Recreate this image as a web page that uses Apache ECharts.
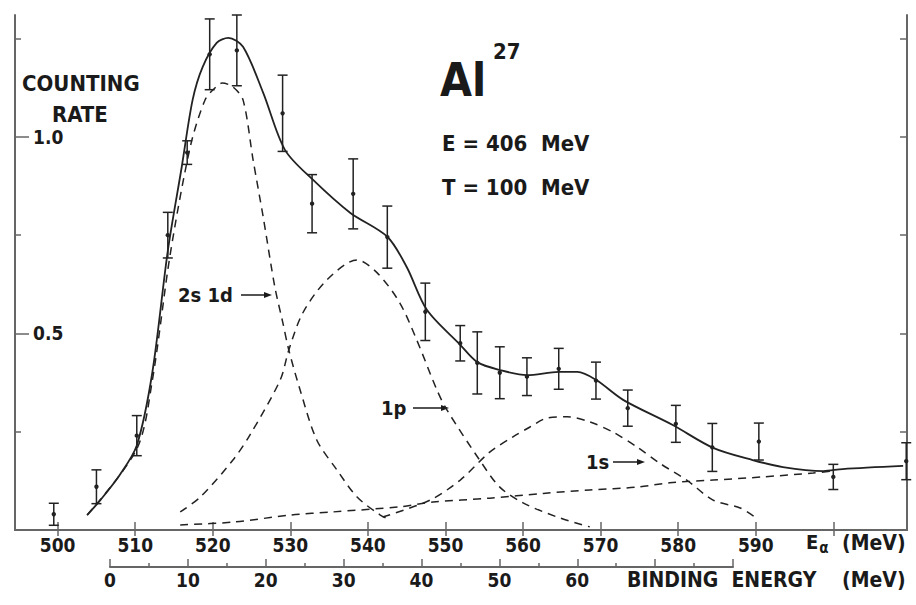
<!DOCTYPE html>
<html>
<head>
<meta charset="UTF-8">
<title>Al27 counting rate</title>
<script src="https://cdn.jsdelivr.net/npm/echarts@6/dist/echarts.min.js"></script>
<style>
  html, body { margin: 0; padding: 0; background: #fff; }
  #chart { width: 916px; height: 605px; }
</style>
</head>
<body>
<div id="chart"></div>
<script>
// measured points: E_alpha (MeV), counting rate, error
var pointE    = [499.5, 505.0, 510.2, 514.2, 516.7, 519.6, 523.1, 529.0, 532.8, 538.1, 542.5, 547.4, 551.9, 554.1, 557.0, 560.5, 564.6, 569.4, 573.5, 579.7, 584.4, 590.4, 600.0, 609.4];
var pointRate = [0.04, 0.11, 0.24, 0.75, 0.96, 1.21, 1.22, 1.06, 0.83, 0.855, 0.745, 0.555, 0.475, 0.425, 0.40, 0.39, 0.41, 0.38, 0.31, 0.27, 0.21, 0.225, 0.135, 0.175];
var pointErr  = [0.028, 0.043, 0.051, 0.058, 0.03, 0.09, 0.09, 0.097, 0.074, 0.089, 0.079, 0.073, 0.045, 0.079, 0.066, 0.048, 0.052, 0.047, 0.046, 0.047, 0.061, 0.047, 0.032, 0.047];

// total fit (solid)
var totalE    = [503.8, 505.5, 508.0, 510.2, 512.2, 514.2, 516.0, 517.4, 518.7, 520.5, 522.0, 523.9, 526.5, 529.3, 532.9, 537.7, 542.5, 545.0, 547.6, 551.9, 554.1, 557.0, 560.5, 564.6, 567.0, 569.4, 572.9, 579.3, 584.5, 589.6, 593.5, 598.7, 601.2, 609.0];
var totalRate = [0.038, 0.076, 0.14, 0.215, 0.40, 0.71, 0.924, 1.094, 1.178, 1.239, 1.252, 1.229, 1.112, 0.967, 0.891, 0.807, 0.746, 0.669, 0.560, 0.471, 0.427, 0.407, 0.394, 0.402, 0.402, 0.382, 0.331, 0.267, 0.209, 0.178, 0.160, 0.150, 0.155, 0.163];

// 2s 1d shell (dashed)
var sdE    = [503.8, 510.2, 512.2, 514.5, 517.1, 519.0, 520.3, 521.2, 522.6, 523.9, 525.2, 526.5, 528.0, 529.0, 529.8, 531.2, 533.4, 536.0, 538.6, 541.6, 543.0];
var sdRate = [0.038, 0.206, 0.38, 0.70, 0.975, 1.094, 1.125, 1.137, 1.127, 1.094, 0.941, 0.796, 0.618, 0.53, 0.458, 0.36, 0.229, 0.153, 0.084, 0.038, 0.025];

// 1p shell (dashed)
var pE    = [515.8, 518.4, 522.6, 524.8, 528.7, 529.8, 531.6, 534.7, 538.6, 541.2, 544.1, 546.3, 548.9, 550.2, 554.4, 557.0, 560.0, 564.4, 568.6];
var pRate = [0.046, 0.084, 0.178, 0.242, 0.382, 0.458, 0.552, 0.636, 0.687, 0.654, 0.578, 0.483, 0.356, 0.305, 0.178, 0.109, 0.069, 0.033, 0.008];

// 1s shell (dashed)
var sE    = [541.9, 548.0, 551.9, 555.7, 558.7, 560.9, 563.1, 565.7, 568.6, 571.6, 574.7, 577.6, 581.1, 584.5, 588.0, 589.9];
var sRate = [0.033, 0.076, 0.127, 0.198, 0.237, 0.262, 0.285, 0.288, 0.275, 0.249, 0.211, 0.170, 0.127, 0.076, 0.056, 0.033];

// background (dashed)
var bgE    = [515.8, 522.6, 530.0, 535.5, 544.1, 548.4, 555.7, 562.6, 568.6, 574.7, 578.9, 584.5, 590.9, 597.4, 599.9];
var bgRate = [0.013, 0.020, 0.038, 0.046, 0.059, 0.071, 0.081, 0.093, 0.102, 0.109, 0.120, 0.127, 0.135, 0.145, 0.150];

var eTicks = [500, 510, 520, 530, 540, 550, 560, 570, 580, 590, 600];
var eLabels = [500, 510, 520, 530, 540, 550, 560, 570, 580, 590];
var rateLabels = [0.5, 1.0];
var rateMinor = [0.25, 0.75, 1.25];
var rateAll = [0.25, 0.5, 0.75, 1.0, 1.25];

function pairs(xs, ys) {
    var out = [];
    for (var i = 0; i < xs.length; i++) out.push([xs[i], ys[i]]);
    return out;
}

var errData = [];
for (var i = 0; i < pointE.length; i++) errData.push([pointE[i], pointRate[i], pointErr[i]]);

var INK = '#1a1a1a';
var FRAME = '#666';
var FONT = "'DejaVu Sans Condensed', 'DejaVu Sans', sans-serif";

var chart = echarts.init(document.getElementById('chart'), null, {renderer: 'svg'});

function txt(x, y, s, size, extra) {
    var st = {text: s, fill: INK, fontSize: size, fontWeight: 'bold', fontFamily: FONT};
    if (extra) for (var k in extra) st[k] = extra[k];
    return {type: 'text', left: x, top: y, style: st, z: 10};
}
function arrow(x1, x2, y) {
    return {type: 'group', z: 10, children: [
        {type: 'line', shape: {x1: x1, y1: y, x2: x2 - 6, y2: y}, style: {stroke: INK, lineWidth: 1.5}},
        {type: 'polygon', shape: {points: [[x2, y], [x2 - 8, y - 3], [x2 - 8, y + 3]]}, style: {fill: INK}}
    ]};
}

var dashed = {color: '#222', width: 1.5, type: [8, 6]};

var option = {
    backgroundColor: '#fff',
    animation: false,
    grid: [
        {left: 15, top: 15, width: 892, height: 515},
        {left: 110, top: 566, width: 623, height: 1}
    ],
    xAxis: [
        {
            type: 'value', gridIndex: 0, position: 'bottom', min: 494.5, max: 609.5,
            axisLine: {lineStyle: {color: FRAME, width: 2}},
            axisTick: {inside: true, length: 8, customValues: eTicks, lineStyle: {color: FRAME, width: 1.5}},
            axisLabel: {customValues: eLabels, margin: 5, color: INK, fontSize: 19, fontWeight: 'bold', fontFamily: FONT},
            splitLine: {show: false}
        },
        {
            type: 'value', gridIndex: 0, position: 'top', min: 494.5, max: 609.5,
            axisLine: {lineStyle: {color: FRAME, width: 2}},
            axisTick: {inside: true, length: 6, customValues: eTicks, lineStyle: {color: FRAME, width: 1.5}},
            axisLabel: {show: false},
            splitLine: {show: false}
        },
        {
            type: 'value', gridIndex: 1, position: 'bottom', min: 0, max: 80, interval: 10,
            axisLine: {lineStyle: {color: FRAME, width: 2}},
            axisTick: {inside: true, length: 8, lineStyle: {color: FRAME, width: 1.5}},
            minorTick: {show: true, splitNumber: 2, length: 4, lineStyle: {color: FRAME, width: 1.5}},
            axisLabel: {
                margin: 3, color: INK, fontSize: 19, fontWeight: 'bold', fontFamily: FONT,
                formatter: function (v) { return v <= 60 ? String(v) : ''; }
            },
            splitLine: {show: false}
        }
    ],
    yAxis: [
        {
            type: 'value', gridIndex: 0, position: 'left', min: 0, max: 1.31,
            axisLine: {show: true, lineStyle: {color: FRAME, width: 2}},
            axisTick: {show: true, inside: true, length: 14, customValues: rateLabels, lineStyle: {color: FRAME, width: 1.5}},
            axisLabel: {
                inside: true, margin: 18, customValues: rateLabels, color: INK, fontSize: 19, fontWeight: 'bold', fontFamily: FONT,
                formatter: function (v) { return v.toFixed(1); }
            },
            splitLine: {show: false}
        },
        {
            type: 'value', gridIndex: 0, position: 'left', min: 0, max: 1.31,
            axisLine: {show: false},
            axisTick: {show: true, inside: true, length: 6, customValues: rateMinor, lineStyle: {color: FRAME, width: 1.5}},
            axisLabel: {show: false},
            splitLine: {show: false}
        },
        {
            type: 'value', gridIndex: 0, position: 'right', min: 0, max: 1.31,
            axisLine: {show: true, lineStyle: {color: FRAME, width: 2}},
            axisTick: {show: true, inside: true, length: 7, customValues: rateAll, lineStyle: {color: FRAME, width: 1.5}},
            axisLabel: {show: false},
            splitLine: {show: false}
        },
        {type: 'value', gridIndex: 1, show: false, min: 0, max: 1}
    ],
    series: [
        {
            name: 'total', type: 'line', xAxisIndex: 0, yAxisIndex: 0, smooth: 0.3, showSymbol: false,
            lineStyle: {color: '#222', width: 1.8}, data: pairs(totalE, totalRate)
        },
        {
            name: '2s 1d', type: 'line', xAxisIndex: 0, yAxisIndex: 0, smooth: 0.3, showSymbol: false,
            lineStyle: dashed, data: pairs(sdE, sdRate)
        },
        {
            name: '1p', type: 'line', xAxisIndex: 0, yAxisIndex: 0, smooth: 0.3, showSymbol: false,
            lineStyle: dashed, data: pairs(pE, pRate)
        },
        {
            name: '1s', type: 'line', xAxisIndex: 0, yAxisIndex: 0, smooth: 0.3, showSymbol: false,
            lineStyle: dashed, data: pairs(sE, sRate)
        },
        {
            name: 'background', type: 'line', xAxisIndex: 0, yAxisIndex: 0, smooth: 0.3, showSymbol: false,
            lineStyle: dashed, data: pairs(bgE, bgRate)
        },
        {
            name: 'data', type: 'custom', xAxisIndex: 0, yAxisIndex: 0,
            encode: {x: 0, y: 1},
            data: errData,
            renderItem: function (params, api) {
                var x = api.value(0), y = api.value(1), e = api.value(2);
                var top = api.coord([x, y + e]);
                var bot = api.coord([x, y - e]);
                var c = api.coord([x, y]);
                var hw = 5;
                var st = {stroke: '#222', lineWidth: 1.5};
                return {type: 'group', children: [
                    {type: 'line', shape: {x1: top[0], y1: top[1], x2: bot[0], y2: bot[1]}, style: st},
                    {type: 'line', shape: {x1: top[0] - hw, y1: top[1], x2: top[0] + hw, y2: top[1]}, style: st},
                    {type: 'line', shape: {x1: bot[0] - hw, y1: bot[1], x2: bot[0] + hw, y2: bot[1]}, style: st},
                    {type: 'circle', shape: {cx: c[0], cy: c[1], r: 2.2}, style: {fill: '#222'}}
                ]};
            }
        }
    ],
    graphic: [
        txt(22, 72, 'COUNTING', 22),
        txt(52, 103, 'RATE', 22),
        txt(440, 57, 'Al', 46),
        txt(493, 40, '27', 22),
        txt(442, 132, 'E = 406  MeV', 22),
        txt(442, 176, 'T = 100  MeV', 22),
        txt(178, 285, '2s 1d', 20),
        arrow(241, 272, 295),
        txt(381, 398, '1p', 20),
        arrow(413, 449, 408),
        txt(586, 452, '1s', 20),
        arrow(613, 645, 462),
        {
            type: 'text', left: 806, top: 532, z: 10,
            style: {
                text: '{a|E}{s|α}',
                rich: {
                    a: {fill: INK, fontSize: 20, fontWeight: 'bold', fontFamily: FONT},
                    s: {fill: INK, fontSize: 15, fontWeight: 'bold', fontFamily: FONT, padding: [12, 0, 0, 1]}
                }
            }
        },
        txt(842, 532, '(MeV)', 21),
        txt(627, 569, 'BINDING  ENERGY', 21),
        txt(842, 569, '(MeV)', 21)
    ]
};

chart.setOption(option);
</script>
</body>
</html>
